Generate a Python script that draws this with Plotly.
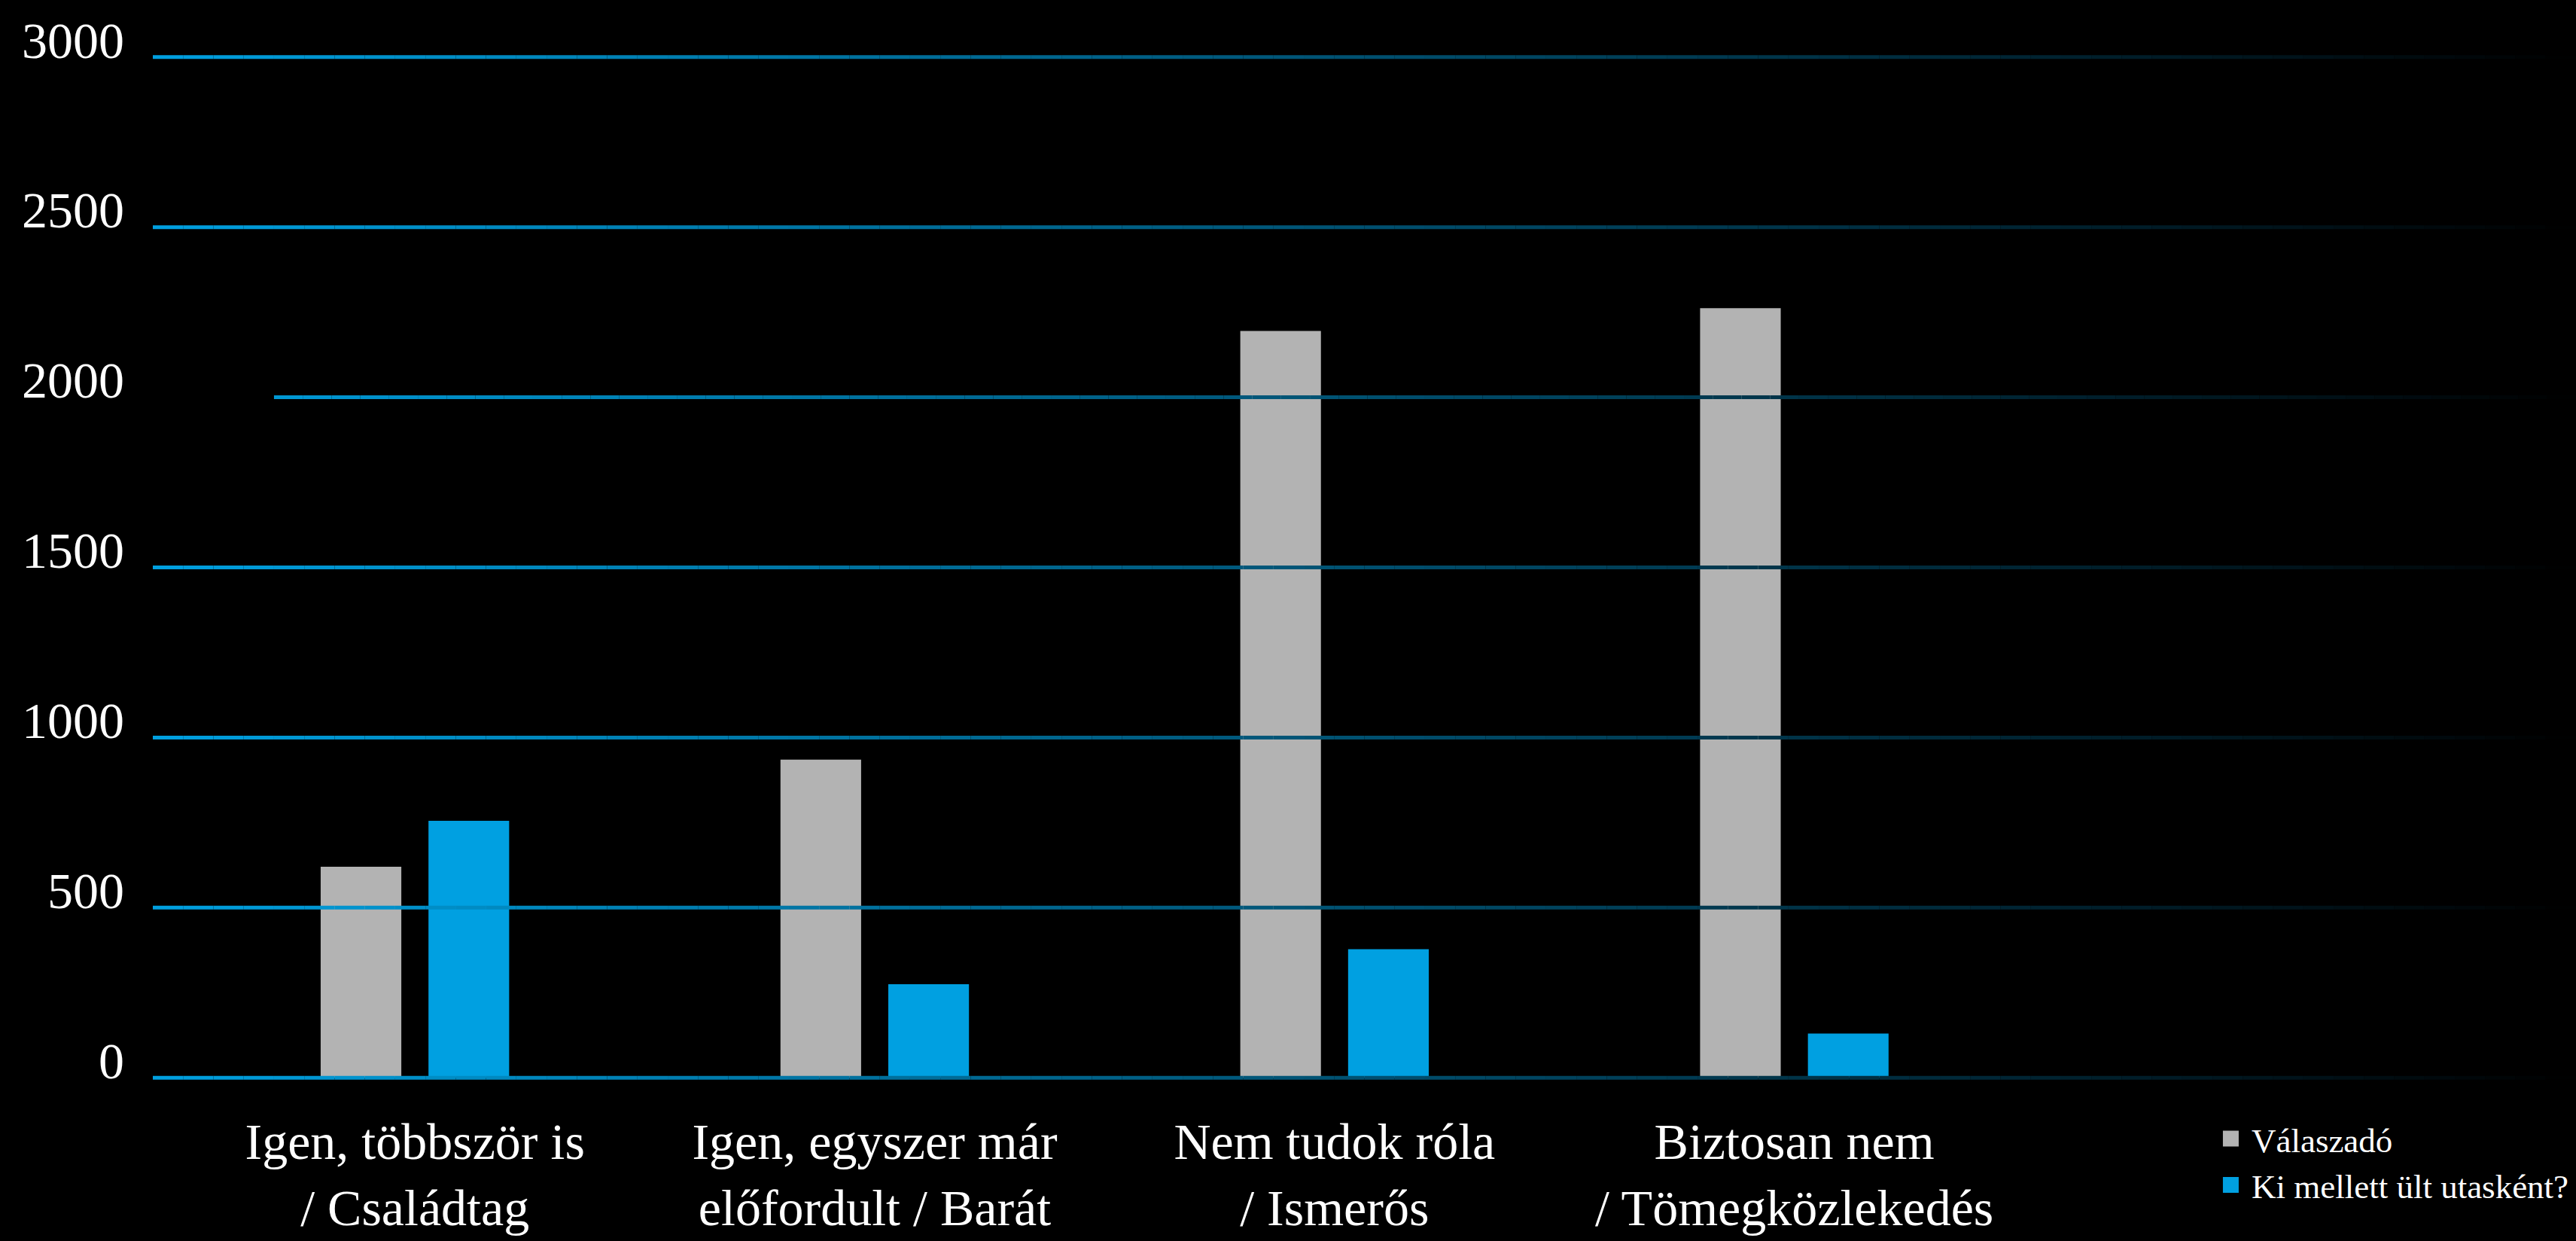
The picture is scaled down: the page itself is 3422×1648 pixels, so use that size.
"""
Grouped bar chart: Válaszadó vs. Ki mellett ült utasként?
"""
import plotly.graph_objects as go

# Data
categories = [
    'Igen, többször is<br>/ Családtag',
    'Igen, egyszer már<br>előfordult / Barát',
    'Nem tudok róla<br>/ Ismerős',
    'Biztosan nem<br>/ Tömegközlekedés',
]
valaszado = [620, 935, 2195, 2262]
utaskent = [755, 275, 378, 130]
series_names = ['Válaszadó', 'Ki mellett ült utasként?']
y_ticks = [0, 500, 1000, 1500, 2000, 2500, 3000]
y_tick_labels = ['0', '500', '1000', '1500', '2000', '2500', '3000']

# Styling
BG = '#000000'
GREY = '#B3B3B3'
BLUE = '#00A0E1'
GRID_RGB = (0, 160, 224)
FONT = 'Liberation Serif'
GRID_SEGMENTS = 80
# the 2000 line starts a bit later than the others in the original
grid_start = {2000: 0.05}

fig = go.Figure()

fig.add_trace(go.Bar(
    x=categories, y=valaszado, name=series_names[0],
    marker=dict(color=GREY, line=dict(width=0)), showlegend=False,
))
fig.add_trace(go.Bar(
    x=categories, y=utaskent, name=series_names[1],
    marker=dict(color=BLUE, line=dict(width=0)), showlegend=False,
))

# Legend entries with larger square swatches
for name, color in zip(series_names, [GREY, BLUE]):
    fig.add_trace(go.Scatter(
        x=[None], y=[None], mode='markers', name=name,
        marker=dict(symbol='square', size=16, color=color,
                    line=dict(color=color, width=5)),
    ))

# Gridlines that fade from blue to black towards the right
shapes = []
for val in y_ticks:
    start = grid_start.get(val, 0.0)
    for i in range(GRID_SEGMENTS):
        x0 = start + (1 - start) * i / GRID_SEGMENTS
        x1 = start + (1 - start) * (i + 1) / GRID_SEGMENTS
        k = 1 - (x0 + x1) / 2
        r, g, b = (int(round(c * k)) for c in GRID_RGB)
        shapes.append(dict(
            type='line', xref='paper', yref='y',
            x0=x0, x1=x1, y0=val, y1=val,
            line=dict(color=f'rgb({r},{g},{b})', width=5),
            layer='above',
        ))

fig.update_layout(
    template='none',
    width=3422, height=1648,
    paper_bgcolor=BG, plot_bgcolor=BG,
    margin=dict(l=203, r=0, t=69, b=210),
    barmode='group',
    bargap=0.531,
    bargroupgap=0.252,
    font=dict(family=FONT, color='white'),
    shapes=shapes,
    showlegend=True,
    legend=dict(
        x=0.849, y=-0.028, xanchor='left', yanchor='top',
        bgcolor='rgba(0,0,0,0)',
        font=dict(family=FONT, size=45, color='white'),
        itemsizing='trace',
        itemwidth=45,
        tracegroupgap=0,
    ),
    xaxis=dict(
        range=[-0.57, 4.70],
        showgrid=False, zeroline=False, showline=False,
        ticks='', automargin=False,
        tickfont=dict(family=FONT, size=68, color='white'),
        ticklabelstandoff=32,
    ),
    yaxis=dict(
        range=[-15, 3015],
        tickvals=y_ticks, ticktext=y_tick_labels,
        showgrid=False, zeroline=False, showline=False,
        ticks='', automargin=False,
        tickfont=dict(family=FONT, size=68, color='white'),
        ticklabelstandoff=37,
        ticklabelshift=-23,
    ),
)

fig.write_html(
    'out.html',
    config={'displayModeBar': False},
    post_script="document.body.style.margin='0';"
                "document.body.style.overflow='hidden';",
)
